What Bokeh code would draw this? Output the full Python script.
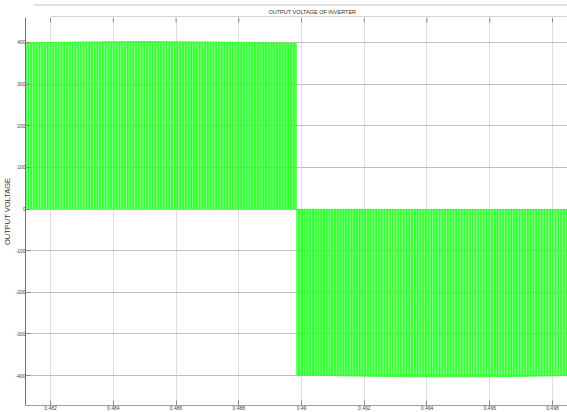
import numpy as np
from bokeh.plotting import figure
from bokeh.layouts import column
from bokeh.models import FixedTicker, Range1d
from bokeh.core.properties import value
from bokeh.embed import file_html
from bokeh.resources import INLINE

title_text = "OUTPUT VOLTAGE OF INVERTER"
y_label = "OUTPUT VOLTAGE"
x_ticks = [0.482, 0.484, 0.486, 0.488, 0.490, 0.492, 0.494, 0.496, 0.498]
x_tick_labels = ["0.482", "0.484", "0.486", "0.488", "0.49", "0.492", "0.494", "0.496", "0.498"]
y_ticks = [-400, -300, -200, -100, 0, 100, 200, 300, 400]
y_tick_labels = ["-400", "-300", "-200", "-100", "0", "100", "200", "300", "400"]

# pulse height during the positive half cycle
pos_t = [0.4811, 0.4830, 0.4850, 0.4870, 0.4885, 0.4898]
pos_v = [399, 401, 402, 401, 400, 398]
# pulse height during the negative half cycle
neg_t = [0.4898, 0.4915, 0.4935, 0.4955, 0.4970, 0.49848]
neg_v = [-399, -401, -403, -403, -402, -400]
# duty ratio of the switching pulses across the window
duty_t = [0.4811, 0.4840, 0.4870, 0.4885, 0.4898, 0.4910, 0.4930, 0.4960, 0.49848]
duty_v = [0.92, 0.92, 0.85, 0.72, 0.65, 0.72, 0.88, 0.92, 0.92]
t_zero = 0.4898          # polarity reversal
f_sw = 20000.0           # switching frequency, Hz
t_start, t_end = 0.4812, 0.49848
y_lo, y_hi = -472, 460

# build the PWM trace: each period rises to the envelope level and falls back to 0
T = 1.0 / f_sw
xs, ys = [], []
t0 = 0.4811
while t0 < t_end:
    if t0 < t_zero:
        lvl = float(np.interp(t0, pos_t, pos_v))
    else:
        lvl = float(np.interp(t0, neg_t, neg_v))
    d = float(np.interp(t0, duty_t, duty_v))
    t1 = min(t0 + d * T, t_end)
    xs += [t0, t0, t1, t1]
    ys += [0.0, lvl, lvl, 0.0]
    t0 += T

FONT = "Liberation Sans"
TICK_GREY = "#8a8a8a"

# header strip: rule line, title, and the top edge of the axes box
head = figure(width=567, height=17, x_range=Range1d(0, 567), y_range=Range1d(17, 0),
              output_backend="svg", toolbar_location=None,
              min_border=0, outline_line_color=None)
head.axis.visible = False
head.grid.visible = False
head.segment(x0=[9], y0=[4.5], x1=[567], y1=[4.5], line_color="#c4c4c4", line_width=1)
head.segment(x0=[26], y0=[16.5], x1=[567], y1=[16.5], line_color="#a8a8a8", line_width=1)
head.text(x=[300], y=[11], text=[title_text], text_align="center", text_baseline="middle",
          text_font=value(FONT), text_font_size="5.5px", text_color="#333333")

p = figure(width=567, height=395, x_range=Range1d(t_start, t_end), y_range=Range1d(y_lo, y_hi),
           output_backend="svg", toolbar_location=None,
           min_border_left=0, min_border_right=0, min_border_top=0, min_border_bottom=0,
           outline_line_color=None, background_fill_color="white")

p.xgrid.ticker = FixedTicker(ticks=x_ticks)
p.ygrid.ticker = FixedTicker(ticks=y_ticks)
p.xgrid.grid_line_color = "#dedede"
p.ygrid.grid_line_color = "#bdbdbd"

p.line(xs, ys, line_color="#33ff33", line_width=1)

# inward tick marks along the top edge of the box
p.segment(x0=x_ticks, y0=[y_hi] * len(x_ticks), x1=x_ticks, y1=[y_hi - 12] * len(x_ticks),
          line_color=TICK_GREY, line_width=1)

p.xaxis.ticker = FixedTicker(ticks=x_ticks)
p.xaxis.major_label_overrides = dict(zip(x_ticks, x_tick_labels))
p.yaxis.ticker = FixedTicker(ticks=y_ticks)
p.yaxis.major_label_overrides = dict(zip(y_ticks, y_tick_labels))
p.yaxis.axis_label = y_label

for ax in (p.xaxis[0], p.yaxis[0]):
    ax.major_tick_in = 5
    ax.major_tick_out = 0
    ax.minor_tick_in = 0
    ax.minor_tick_out = 0
    ax.major_tick_line_color = TICK_GREY
    ax.major_label_text_font = FONT
    ax.major_label_text_font_size = "5px"
    ax.major_label_text_color = "#444444"
    ax.major_label_standoff = 0

p.xaxis.axis_line_color = "#a0a0a0"
p.yaxis.axis_line_color = "#707070"
p.yaxis.axis_label_text_font = FONT
p.yaxis.axis_label_text_font_size = "7.5px"
p.yaxis.axis_label_text_font_style = "normal"
p.yaxis.axis_label_text_color = "#333333"
p.yaxis.axis_label_standoff = 0

layout = column(head, p, spacing=0)
open("out.html", "w").write(file_html(layout, INLINE))
